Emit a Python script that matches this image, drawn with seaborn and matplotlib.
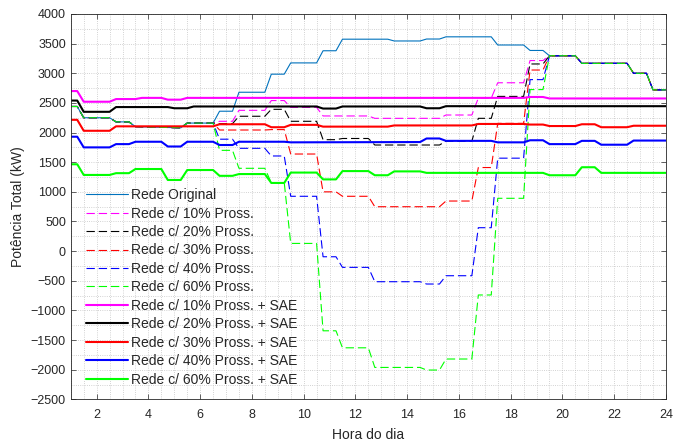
import seaborn as sns
import matplotlib.pyplot as plt
import pandas as pd
from matplotlib.ticker import MultipleLocator

# -----------------------------------------------------------
# dados (hora do dia, potencia em kW)

hora_original = [1, 1.25, 1.5, 2.5, 2.75, 3.25, 3.5, 5.25, 5.5, 6.5, 6.75, 7.25, 7.5, 8.5, 8.75, 9.25, 9.5,
                 10.5, 10.75, 11.25, 11.5, 13.25, 13.5, 14.5, 14.75, 15.25, 15.5, 17.25, 17.5, 18.5, 18.75,
                 19.25, 19.5, 20.5, 20.75, 22.5, 22.75, 23.25, 23.5, 24]
rede_original = [2440, 2440, 2250, 2250, 2180, 2180, 2100, 2080, 2160, 2160, 2360, 2360, 2680, 2680, 2985, 2985, 3175,
                 3175, 3380, 3380, 3575, 3575, 3545, 3545, 3578, 3578, 3615, 3615, 3477, 3477, 3385,
                 3385, 3295, 3295, 3168, 3168, 3000, 3000, 2720, 2720]

# horas onde as curvas com prossumidores se afastam da rede original
hora_pross = [6.75, 7.25, 7.5, 8.5, 8.75, 9.25, 9.5, 10.5, 10.75, 11.25, 11.5, 12.5,
              12.75, 14.5, 14.75, 15.25, 15.5, 16.5, 16.75, 17.25, 17.5, 18.5, 18.75, 19.25]
pross_10 = [2190, 2190, 2375, 2375, 2540, 2540, 2425, 2425, 2280, 2280, 2280, 2280,
            2240, 2240, 2240, 2240, 2296, 2296, 2580, 2580, 2840, 2840, 3215, 3215]
pross_20 = [2150, 2150, 2275, 2275, 2392, 2392, 2190, 2190, 1880, 1880, 1900, 1900,
            1790, 1790, 1790, 1790, 1855, 1855, 2240, 2240, 2610, 2610, 3157, 3157]
pross_30 = [2043, 2043, 2043, 2043, 2050, 2050, 1638, 1638, 1000, 1000, 925, 925,
            749, 749, 749, 749, 845, 845, 1410, 1410, 2155, 2155, 3055, 3055]
pross_40 = [1888, 1888, 1734, 1734, 1605, 1605, 925, 925, -95, -95, -274, -274,
            -516, -516, -555, -555, -415, -415, 395, 395, 1568, 1568, 2893, 2893]
pross_60 = [1700, 1700, 1397, 1397, 1154, 1154, 130, 130, -1344, -1344, -1631, -1631,
            -1962, -1962, -2006, -2006, -1820, -1820, -740, -740, 891, 891, 2725, 2725]

hora_sae10 = [1, 1.25, 1.5, 2.5, 2.75, 3.5, 3.75, 4.5, 4.75, 5.25, 5.5, 18.5, 18.75, 19.25, 19.5, 24]
sae_10 = [2700, 2700, 2520, 2520, 2565, 2565, 2585, 2585, 2555, 2555, 2585, 2585, 2600, 2600, 2575, 2575]

hora_sae20 = [1, 1.25, 1.5, 2.5, 2.75, 4.75, 5, 5.5, 5.75, 10.5, 10.75, 11.25, 11.5, 14.5, 14.75, 15.25, 15.5, 24]
sae_20 = [2540, 2540, 2350, 2350, 2430, 2430, 2410, 2410, 2440, 2440, 2405, 2405, 2440, 2440, 2410, 2410, 2445, 2445]

hora_sae30 = [1, 1.25, 1.5, 2.5, 2.75, 6.5, 6.75, 8.5, 8.75, 9.25, 9.5, 10.5, 10.75, 13.25, 13.5, 16.5, 16.75,
              18.5, 18.75, 19.25, 19.5, 20.5, 20.75, 21.25, 21.5, 22.5, 22.75, 24]
sae_30 = [2215, 2215, 2030, 2030, 2105, 2105, 2140, 2140, 2090, 2090, 2130, 2130, 2100, 2100, 2120, 2120, 2145,
          2145, 2135, 2135, 2110, 2110, 2140, 2140, 2090, 2090, 2115, 2115]

hora_sae40 = [1, 1.25, 1.5, 2.5, 2.75, 3.25, 3.5, 4.5, 4.75, 5.25, 5.5, 6.5, 6.75, 7.25, 7.5, 9.25, 9.5, 14.5,
              14.75, 15.25, 15.5, 17.25, 17.5, 18.5, 18.75, 19.25, 19.5, 20.5, 20.75, 21.25, 21.5, 22.5, 22.75, 24]
sae_40 = [1930, 1930, 1750, 1750, 1805, 1805, 1845, 1845, 1765, 1765, 1845, 1845, 1790, 1790, 1845, 1845, 1835, 1840,
          1900, 1900, 1860, 1860, 1835, 1835, 1870, 1870, 1805, 1805, 1860, 1860, 1795, 1795, 1865, 1865]

hora_sae60 = [1, 1.25, 1.5, 2.5, 2.75, 3.25, 3.5, 4.5, 4.75, 5.25, 5.5, 6.5, 6.75, 7.25, 7.5, 8.5, 8.75, 9.25,
              9.5, 10.5, 10.75, 11.25, 11.5, 12.5, 12.75, 13.25, 13.5, 14.5, 14.75, 19.25, 19.5, 20.5,
              20.75, 21.25, 21.5, 24]
sae_60 = [1465, 1465, 1285, 1285, 1315, 1315, 1385, 1385, 1200, 1200, 1368, 1368, 1270, 1270, 1300, 1300, 1150, 1150,
          1325, 1325, 1210, 1210, 1350, 1350, 1280, 1280, 1345, 1345, 1320, 1320, 1280, 1280,
          1415, 1415, 1320, 1320]

rotulos = ["Rede Original",
           "Rede c/ 10% Pross.", "Rede c/ 20% Pross.", "Rede c/ 30% Pross.",
           "Rede c/ 40% Pross.", "Rede c/ 60% Pross.",
           "Rede c/ 10% Pross. + SAE", "Rede c/ 20% Pross. + SAE", "Rede c/ 30% Pross. + SAE",
           "Rede c/ 40% Pross. + SAE", "Rede c/ 60% Pross. + SAE"]
cores = ["#0072BD", "#FF00FF", "#000000", "#FF0000", "#0000FF", "#00FF00",
         "#FF00FF", "#000000", "#FF0000", "#0000FF", "#00FF00"]

# -----------------------------------------------------------


def serie_pross(valores):
    # antes das 6:30 e depois das 19:30 as curvas coincidem com a rede original
    ini = [(h, v) for h, v in zip(hora_original, rede_original) if h <= 6.5]
    fim = [(h, v) for h, v in zip(hora_original, rede_original) if h >= 19.5]
    pares = ini + list(zip(hora_pross, valores)) + fim
    return pd.DataFrame(pares, columns=["hora", "potencia"])


series = [pd.DataFrame({"hora": hora_original, "potencia": rede_original})]
for vals in [pross_10, pross_20, pross_30, pross_40, pross_60]:
    series.append(serie_pross(vals))
for hs, vs in [(hora_sae10, sae_10), (hora_sae20, sae_20), (hora_sae30, sae_30),
               (hora_sae40, sae_40), (hora_sae60, sae_60)]:
    series.append(pd.DataFrame({"hora": hs, "potencia": vs}))

sns.set_style("ticks")
plt.rcParams['font.family'] = ['Liberation Sans', 'DejaVu Sans']

fig = plt.figure(figsize=(6.74, 4.43), dpi=100)
ax = fig.add_axes([0.105, 0.0986, 0.883, 0.8698])

for i, df in enumerate(series):
    if i == 0:
        lw, ls = 0.8, "-"
    elif i <= 5:
        lw, ls = 0.8, (0, (7.5, 3.5))
    else:
        lw, ls = 1.5, "-"
    sns.lineplot(data=df, x="hora", y="potencia", ax=ax, color=cores[i], label=rotulos[i],
                 linewidth=lw, linestyle=ls, estimator=None, sort=False)

ax.set_xlim(1, 24)
ax.set_ylim(-2500, 4000)
ax.xaxis.set_major_locator(MultipleLocator(2))
ax.xaxis.set_minor_locator(MultipleLocator(0.5))
ax.yaxis.set_major_locator(MultipleLocator(500))
ax.yaxis.set_minor_locator(MultipleLocator(250))
ax.grid(True, which="both", linestyle=":", color="#c4c4c4", linewidth=0.6)
ax.set_axisbelow(True)
ax.tick_params(which="major", direction="in", top=True, right=True, length=3.5,
               width=0.5, labelsize=9, colors="#262626", labelcolor="#262626")
ax.tick_params(axis="x", which="major", pad=7)
ax.tick_params(which="minor", length=0, top=True, right=True)
for s in ax.spines.values():
    s.set_color("#262626")
    s.set_linewidth(0.6)

ax.set_xlabel("Hora do dia", fontsize=10, color="#262626", labelpad=5)
ax.set_ylabel("Potência Total (kW)", fontsize=10, color="#262626")

leg = ax.legend(loc="lower left", bbox_to_anchor=(0.01, 0.008), fontsize=10, frameon=False,
                handlelength=3.0, handletextpad=0.2, labelspacing=0.32, borderpad=0.2)

plt.savefig("out.png", dpi=100)
